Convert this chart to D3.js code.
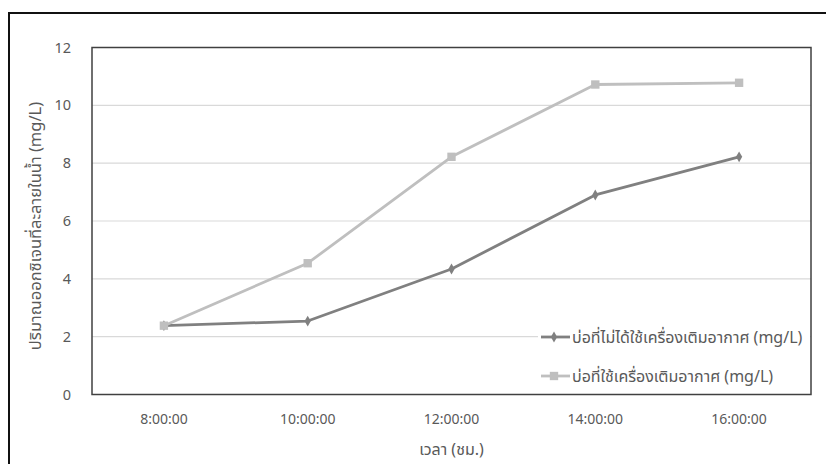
<!DOCTYPE html>
<html>
<head>
<meta charset="utf-8">
<script src="https://cdn.jsdelivr.net/npm/d3@7"></script>
<style>
  body { margin: 0; background: #fff; }
  svg text { font-family: "Noto Sans Thai", "Noto Sans", "Open Sans", "DejaVu Sans", sans-serif; }
</style>
</head>
<body>
<svg id="chart" width="826" height="464"></svg>
<script>
const categories = ["8:00:00", "10:00:00", "12:00:00", "14:00:00", "16:00:00"];
const seriesNames = ["บ่อที่ไม่ได้ใช้เครื่องเติมอากาศ (mg/L)", "บ่อที่ใช้เครื่องเติมอากาศ (mg/L)"];
const noAerator = [2.38, 2.54, 4.34, 6.9, 8.22];
const withAerator = [2.38, 4.54, 8.22, 10.72, 10.78];
const yTicks = [0, 2, 4, 6, 8, 10, 12];
const xTitle = "เวลา (ชม.)";
const yTitle = "ปริมาณออกซิเจนที่ละลายในน้ำ (mg/L)";

const svg = d3.select("#chart");
const m = { left: 92, top: 47.5 };
const pw = 811 - m.left, ph = 394.5 - m.top;

// outer frame
svg.append("rect").attr("x", 9).attr("y", 13).attr("width", 830).attr("height", 470)
  .attr("fill", "none").attr("stroke", "#111").attr("stroke-width", 2);

const g = svg.append("g").attr("transform", `translate(${m.left},${m.top})`);

const x = d3.scaleBand().domain(categories).range([0, pw]);
const y = d3.scaleLinear().domain([0, 12]).range([ph, 0]);

// gridlines
g.append("g").selectAll("line").data(yTicks.filter(d => d > 0 && d < 12)).join("line")
  .attr("x1", 0).attr("x2", pw).attr("y1", d => y(d)).attr("y2", d => y(d))
  .attr("stroke", "#d9d9d9").attr("stroke-width", 1.2);

// y axis labels
const yAxis = g.append("g").call(d3.axisLeft(y).tickValues(yTicks).tickSize(0).tickPadding(21));
yAxis.select(".domain").remove();
yAxis.selectAll("text").attr("fill", "#595959").style("font-size", "14.5px");

// x axis labels
const xAxis = g.append("g").attr("transform", `translate(0,${ph})`)
  .call(d3.axisBottom(x).tickSize(0).tickPadding(20));
xAxis.select(".domain").remove();
xAxis.selectAll("text").attr("fill", "#595959").style("font-size", "14px");

// plot frame
g.append("rect").attr("x", 0).attr("y", 0).attr("width", pw).attr("height", ph)
  .attr("fill", "none").attr("stroke", "#404040").attr("stroke-width", 1.5);

const cx = c => x(c) + x.bandwidth() / 2;
const line = d3.line().x((d, i) => cx(categories[i])).y(d => y(d));

const series = [
  { name: seriesNames[0], values: noAerator, color: "#808080", marker: d3.symbolDiamond, size: 34 },
  { name: seriesNames[1], values: withAerator, color: "#bfbfbf", marker: d3.symbolSquare, size: 70 }
];

series.forEach(s => {
  g.append("path").datum(s.values).attr("d", line)
    .attr("fill", "none").attr("stroke", s.color).attr("stroke-width", 2.8)
    .attr("stroke-linejoin", "round");
  g.append("g").selectAll("path").data(s.values).join("path")
    .attr("d", d3.symbol().type(s.marker).size(s.size))
    .attr("transform", (d, i) => `translate(${cx(categories[i])},${y(d)})`)
    .attr("fill", s.color);
});

// legend
const leg = svg.append("g");
series.forEach((s, i) => {
  const ly = 337 + i * 39;
  leg.append("rect").attr("x", 538).attr("y", ly - 5).attr("width", 272).attr("height", 10).attr("fill", "#fff");
  leg.append("line").attr("x1", 541).attr("x2", 570).attr("y1", ly).attr("y2", ly)
    .attr("stroke", s.color).attr("stroke-width", 2.8);
  leg.append("path").attr("d", d3.symbol().type(s.marker).size(s.size))
    .attr("transform", `translate(554,${ly})`).attr("fill", s.color);
  leg.append("text").attr("x", 572).attr("y", ly).attr("dy", "0.35em")
    .attr("fill", "#595959").style("font-size", "16px").text(s.name);
});

// axis titles
svg.append("text").attr("x", m.left + pw / 2).attr("y", 449).attr("text-anchor", "middle")
  .attr("dy", "0.35em").attr("fill", "#595959").style("font-size", "16px").text(xTitle);
svg.append("text").attr("transform", `translate(35,${m.top + ph / 2 + 5}) rotate(-90)`)
  .attr("text-anchor", "middle").attr("dy", "0.35em").attr("fill", "#595959")
  .style("font-size", "16.5px").text(yTitle);
</script>
</body>
</html>
